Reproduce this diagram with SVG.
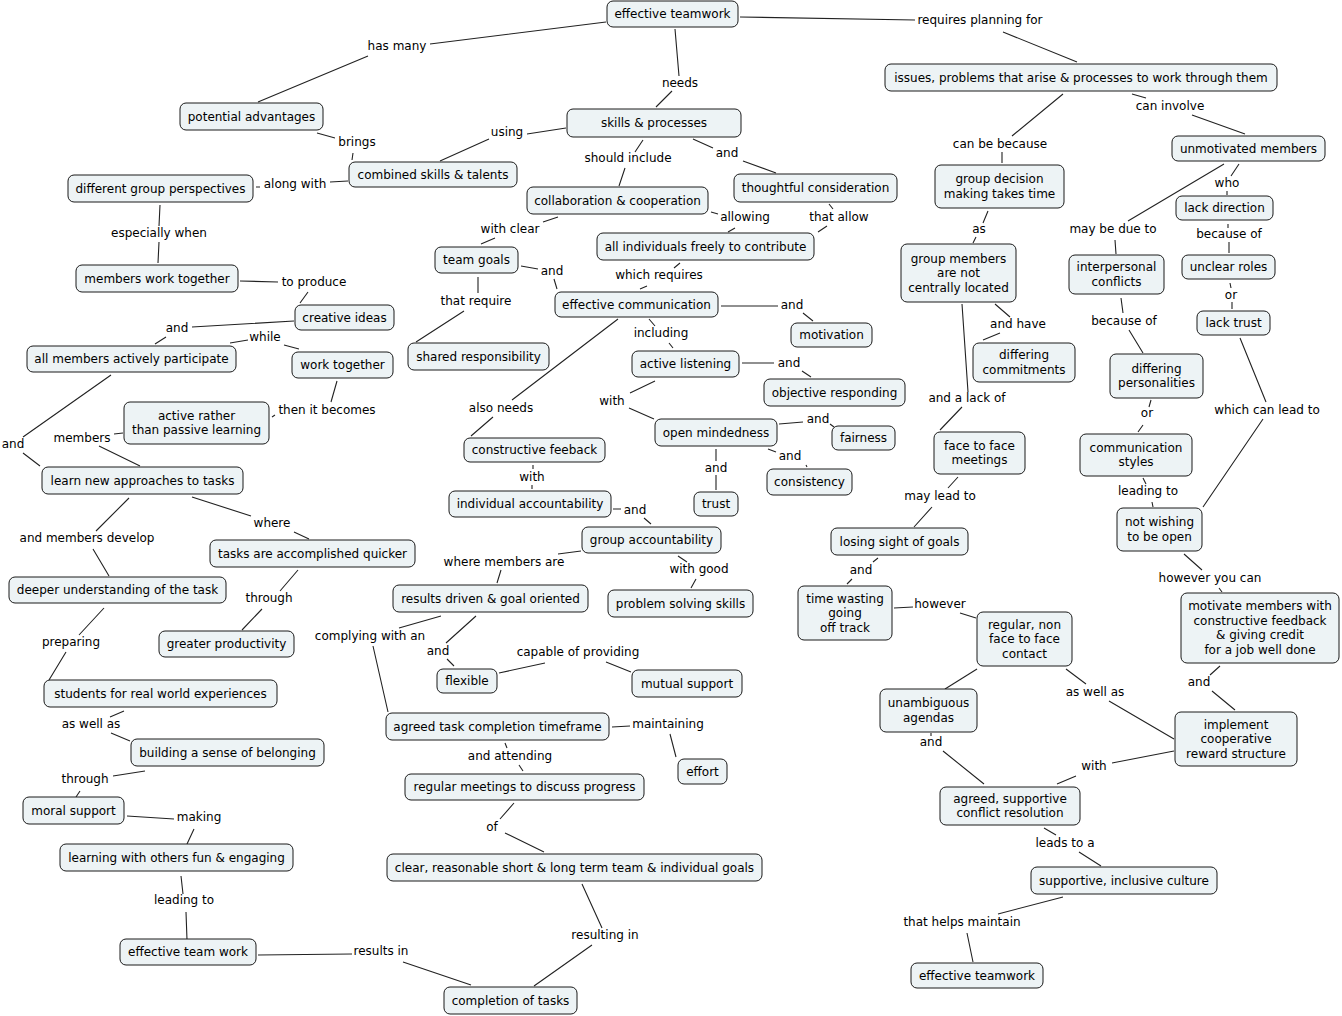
<svg xmlns="http://www.w3.org/2000/svg" width="1342" height="1016" viewBox="0 0 1342 1016">
<style>
text{font-family:"DejaVu Sans",Verdana,sans-serif;font-size:12px;fill:#000;text-anchor:middle}
.n rect{fill:#edf3f5;stroke:#1a1a1a;stroke-width:1}
#connectors path{fill:none;stroke:#222;stroke-width:1.1}
</style>
<rect width="1342" height="1016" fill="#fff"/>
<g id="connectors">
<path d="M606,22L430,44M368,56L258,102"/>
<path d="M675,29L679,76M672,91L656,107"/>
<path d="M740,17L915,20M1003,32L1077,62"/>
<path d="M566,128L527,134M489,139L440,161"/>
<path d="M317,133L335,138M353,153L352,160"/>
<path d="M643,140L635,152M625,168L619,186"/>
<path d="M693,139L713,148M743,161L776,173"/>
<path d="M348,181L330,182M260,187L256,187"/>
<path d="M558,217L543,222M495,238L481,244"/>
<path d="M711,212L718,214M735,228L728,232"/>
<path d="M829,204L833,209M827,226L818,232"/>
<path d="M160,205L159,226M159,242L158,263"/>
<path d="M680,263L674,268M647,286L640,289"/>
<path d="M521,266L538,269M554,279L557,289"/>
<path d="M240,281L278,282M308,292L300,303"/>
<path d="M478,277L478,293M464,311L416,342"/>
<path d="M721,306L778,306M803,313L813,321"/>
<path d="M294,321L192,327M166,337L155,344"/>
<path d="M230,343L248,340M284,345L299,349"/>
<path d="M649,319L655,326M669,343L673,348"/>
<path d="M742,363L774,363M802,371L811,377"/>
<path d="M655,381L630,393M629,408L654,419"/>
<path d="M337,381L331,402M275,415L272,417"/>
<path d="M618,319L512,400M493,417L471,436"/>
<path d="M779,424L803,422M830,424L834,427"/>
<path d="M111,375L23,437M23,453L40,466"/>
<path d="M123,433L114,434M99,446L140,466"/>
<path d="M716,449L716,461M716,475L716,490"/>
<path d="M768,449L776,452M806,465L807,467"/>
<path d="M533,465L533,469M532,485L532,489"/>
<path d="M613,509L621,509M644,518L651,524"/>
<path d="M192,497L251,516M294,532L309,539"/>
<path d="M129,498L96,531M93,549L109,576"/>
<path d="M581,551L558,554M501,570L497,583"/>
<path d="M678,556L687,562M696,579L691,588"/>
<path d="M298,570L280,591M262,609L242,630"/>
<path d="M441,616L399,628M373,646L388,712"/>
<path d="M104,608L79,635M66,652L49,680"/>
<path d="M476,616L446,643M447,659L454,666"/>
<path d="M499,673L545,663M606,662L631,672"/>
<path d="M612,727L630,726M670,734L676,757"/>
<path d="M124,711L110,717M111,733L130,741"/>
<path d="M505,743L507,748M519,765L523,771"/>
<path d="M145,771L113,776M80,791L76,797"/>
<path d="M127,816L174,819M194,829L187,844"/>
<path d="M514,803L500,819M505,833L544,852"/>
<path d="M181,876L183,894M186,912L187,940"/>
<path d="M582,884L602,928M592,945L534,986"/>
<path d="M258,955L352,954M403,962L471,985"/>
<path d="M1063,94L1012,136M1002,152L1002,163"/>
<path d="M1132,94L1146,98M1192,115L1245,134"/>
<path d="M1239,164L1231,176M1227,191L1227,195"/>
<path d="M1224,164L1128,221M1115,240L1116,254"/>
<path d="M1228,224L1228,228M1229,242L1229,253"/>
<path d="M1230,283L1231,288M1232,302L1232,309"/>
<path d="M988,211L983,223M976,237L973,243"/>
<path d="M1121,298L1123,313M1129,330L1143,353"/>
<path d="M995,304L1010,317M1000,333L983,340"/>
<path d="M962,304L968,392M962,407L940,430"/>
<path d="M1151,400L1149,407M1143,425L1138,432"/>
<path d="M1143,478L1146,484M1152,502L1153,507"/>
<path d="M1240,338L1266,402M1263,419L1203,507"/>
<path d="M958,477L948,488M932,507L914,527"/>
<path d="M878,558L873,562M852,579L847,584"/>
<path d="M894,608L913,607M960,613L976,618"/>
<path d="M1184,554L1202,570M1219,588L1222,592"/>
<path d="M1220,666L1210,675M1212,691L1235,710"/>
<path d="M1066,669L1086,684M1109,701L1174,739"/>
<path d="M977,669L945,689"/>
<path d="M931,733L931,736M943,751L984,784"/>
<path d="M1174,751L1112,763M1076,776L1057,784"/>
<path d="M1044,828L1056,835M1079,852L1101,866"/>
<path d="M1063,897L998,914M967,933L973,962"/>
</g>
<g id="link-labels">
<text x="397" y="50">has many</text>
<text x="680" y="87">needs</text>
<text x="980" y="24">requires planning for</text>
<text x="507" y="136">using</text>
<text x="357" y="146">brings</text>
<text x="628" y="162">should include</text>
<text x="727" y="157">and</text>
<text x="295" y="188">along with</text>
<text x="510" y="233">with clear</text>
<text x="745" y="221">allowing</text>
<text x="839" y="221">that allow</text>
<text x="159" y="237">especially when</text>
<text x="659" y="279">which requires</text>
<text x="552" y="275">and</text>
<text x="314" y="286">to produce</text>
<text x="476" y="305">that require</text>
<text x="792" y="309">and</text>
<text x="177" y="332">and</text>
<text x="265" y="341">while</text>
<text x="661" y="337">including</text>
<text x="789" y="367">and</text>
<text x="612" y="405">with</text>
<text x="327" y="414">then it becomes</text>
<text x="501" y="412">also needs</text>
<text x="818" y="423">and</text>
<text x="13" y="448">and</text>
<text x="82" y="442">members</text>
<text x="716" y="472">and</text>
<text x="790" y="460">and</text>
<text x="532" y="481">with</text>
<text x="635" y="514">and</text>
<text x="272" y="527">where</text>
<text x="87" y="542">and members develop</text>
<text x="504" y="566">where members are</text>
<text x="699" y="573">with good</text>
<text x="269" y="602">through</text>
<text x="370" y="640">complying with an</text>
<text x="71" y="646">preparing</text>
<text x="438" y="655">and</text>
<text x="578" y="656">capable of providing</text>
<text x="668" y="728">maintaining</text>
<text x="91" y="728">as well as</text>
<text x="510" y="760">and attending</text>
<text x="85" y="783">through</text>
<text x="199" y="821">making</text>
<text x="492" y="831">of</text>
<text x="184" y="904">leading to</text>
<text x="605" y="939">resulting in</text>
<text x="381" y="955">results in</text>
<text x="1000" y="148">can be because</text>
<text x="1170" y="110">can involve</text>
<text x="1227" y="187">who</text>
<text x="1113" y="233">may be due to</text>
<text x="1229" y="238">because of</text>
<text x="979" y="233">as</text>
<text x="1231" y="299">or</text>
<text x="1124" y="325">because of</text>
<text x="1018" y="328">and have</text>
<text x="967" y="402">and a lack of</text>
<text x="1267" y="414">which can lead to</text>
<text x="1147" y="417">or</text>
<text x="1148" y="495">leading to</text>
<text x="940" y="500">may lead to</text>
<text x="861" y="574">and</text>
<text x="940" y="608">however</text>
<text x="1210" y="582">however you can</text>
<text x="1199" y="686">and</text>
<text x="1095" y="696">as well as</text>
<text x="931" y="746">and</text>
<text x="1094" y="770">with</text>
<text x="1065" y="847">leads to a</text>
<text x="962" y="926">that helps maintain</text>
</g>
<g id="n1" class="n"><rect x="607" y="1" width="131" height="26" rx="6"/><text x="672.5" y="18">effective teamwork</text></g>
<g id="n2" class="n"><rect x="180" y="103" width="143" height="27" rx="6"/><text x="251.5" y="120.5">potential advantages</text></g>
<g id="n3" class="n"><rect x="349" y="162" width="168" height="25" rx="6"/><text x="433" y="178.5">combined skills &amp; talents</text></g>
<g id="n4" class="n"><rect x="68" y="175" width="185" height="27" rx="6"/><text x="160.5" y="192.5">different group perspectives</text></g>
<g id="n5" class="n"><rect x="76" y="265" width="162" height="27" rx="6"/><text x="157" y="282.5">members work together</text></g>
<g id="n6" class="n"><rect x="295" y="305" width="99" height="25" rx="6"/><text x="344.5" y="321.5">creative ideas</text></g>
<g id="n7" class="n"><rect x="27" y="346" width="209" height="26" rx="6"/><text x="131.5" y="363">all members actively participate</text></g>
<g id="n8" class="n"><rect x="292" y="352" width="101" height="26" rx="6"/><text x="342.5" y="369">work together</text></g>
<g id="n9" class="n"><rect x="124" y="402" width="145" height="42" rx="6"/><text x="196.5" y="419.75">active rather</text><text x="196.5" y="434.25">than passive learning</text></g>
<g id="n10" class="n"><rect x="42" y="467" width="201" height="27" rx="6"/><text x="142.5" y="484.5">learn new approaches to tasks</text></g>
<g id="n11" class="n"><rect x="210" y="540" width="205" height="27" rx="6"/><text x="312.5" y="557.5">tasks are accomplished quicker</text></g>
<g id="n12" class="n"><rect x="9" y="577" width="217" height="26" rx="6"/><text x="117.5" y="594">deeper understanding of the task</text></g>
<g id="n13" class="n"><rect x="159" y="631" width="135" height="26" rx="6"/><text x="226.5" y="648">greater productivity</text></g>
<g id="n14" class="n"><rect x="44" y="680" width="233" height="27" rx="6"/><text x="160.5" y="697.5">students for real world experiences</text></g>
<g id="n15" class="n"><rect x="131" y="739" width="193" height="27" rx="6"/><text x="227.5" y="756.5">building a sense of belonging</text></g>
<g id="n16" class="n"><rect x="23" y="797" width="101" height="27" rx="6"/><text x="73.5" y="814.5">moral support</text></g>
<g id="n17" class="n"><rect x="60" y="844" width="233" height="27" rx="6"/><text x="176.5" y="861.5">learning with others fun &amp; engaging</text></g>
<g id="n18" class="n"><rect x="120" y="939" width="136" height="26" rx="6"/><text x="188" y="956">effective team work</text></g>
<g id="n19" class="n"><rect x="449" y="491" width="162" height="26" rx="6"/><text x="530" y="508">individual accountability</text></g>
<g id="n20" class="n"><rect x="582" y="527" width="139" height="26" rx="6"/><text x="651.5" y="544">group accountability</text></g>
<g id="n21" class="n"><rect x="393" y="585" width="195" height="27" rx="6"/><text x="490.5" y="602.5">results driven &amp; goal oriented</text></g>
<g id="n22" class="n"><rect x="608" y="590" width="145" height="27" rx="6"/><text x="680.5" y="607.5">problem solving skills</text></g>
<g id="n23" class="n"><rect x="437" y="669" width="60" height="24" rx="6"/><text x="467" y="685">flexible</text></g>
<g id="n24" class="n"><rect x="632" y="670" width="110" height="27" rx="6"/><text x="687" y="687.5">mutual support</text></g>
<g id="n25" class="n"><rect x="386" y="713" width="223" height="27" rx="6"/><text x="497.5" y="730.5">agreed task completion timeframe</text></g>
<g id="n26" class="n"><rect x="678" y="759" width="49" height="25" rx="6"/><text x="702.5" y="775.5">effort</text></g>
<g id="n27" class="n"><rect x="405" y="774" width="239" height="26" rx="6"/><text x="524.5" y="791">regular meetings to discuss progress</text></g>
<g id="n28" class="n"><rect x="387" y="854" width="375" height="27" rx="6"/><text x="574.5" y="871.5">clear, reasonable short &amp; long term team &amp; individual goals</text></g>
<g id="n29" class="n"><rect x="444" y="987" width="133" height="27" rx="6"/><text x="510.5" y="1004.5">completion of tasks</text></g>
<g id="n30" class="n"><rect x="527" y="187" width="181" height="27" rx="6"/><text x="617.5" y="204.5">collaboration &amp; cooperation</text></g>
<g id="n31" class="n"><rect x="734" y="174" width="163" height="28" rx="6"/><text x="815.5" y="192">thoughtful consideration</text></g>
<g id="n32" class="n"><rect x="567" y="109" width="174" height="28" rx="6"/><text x="654" y="127">skills &amp; processes</text></g>
<g id="n33" class="n"><rect x="435" y="247" width="83" height="26" rx="6"/><text x="476.5" y="264">team goals</text></g>
<g id="n34" class="n"><rect x="597" y="233" width="217" height="27" rx="6"/><text x="705.5" y="250.5">all individuals freely to contribute</text></g>
<g id="n35" class="n"><rect x="555" y="292" width="163" height="25" rx="6"/><text x="636.5" y="308.5">effective communication</text></g>
<g id="n36" class="n"><rect x="408" y="343" width="141" height="27" rx="6"/><text x="478.5" y="360.5">shared responsibility</text></g>
<g id="n37" class="n"><rect x="791" y="323" width="81" height="24" rx="6"/><text x="831.5" y="339">motivation</text></g>
<g id="n38" class="n"><rect x="632" y="351" width="107" height="26" rx="6"/><text x="685.5" y="368">active listening</text></g>
<g id="n39" class="n"><rect x="764" y="379" width="141" height="27" rx="6"/><text x="834.5" y="396.5">objective responding</text></g>
<g id="n40" class="n"><rect x="655" y="419" width="122" height="27" rx="6"/><text x="716" y="436.5">open mindedness</text></g>
<g id="n41" class="n"><rect x="832" y="426" width="63" height="24" rx="6"/><text x="863.5" y="442">fairness</text></g>
<g id="n42" class="n"><rect x="464" y="438" width="141" height="24" rx="6"/><text x="534.5" y="454">constructive feeback</text></g>
<g id="n43" class="n"><rect x="767" y="469" width="85" height="26" rx="6"/><text x="809.5" y="486">consistency</text></g>
<g id="n44" class="n"><rect x="694" y="492" width="44" height="24" rx="6"/><text x="716" y="508">trust</text></g>
<g id="n45" class="n"><rect x="885" y="64" width="392" height="27" rx="6"/><text x="1081" y="81.5">issues, problems that arise &amp; processes to work through them</text></g>
<g id="n46" class="n"><rect x="1172" y="136" width="153" height="25" rx="6"/><text x="1248.5" y="152.5">unmotivated members</text></g>
<g id="n47" class="n"><rect x="935" y="165" width="129" height="43" rx="6"/><text x="999.5" y="183.25">group decision</text><text x="999.5" y="197.75">making takes time</text></g>
<g id="n48" class="n"><rect x="1176" y="196" width="97" height="24" rx="6"/><text x="1224.5" y="212">lack direction</text></g>
<g id="n49" class="n"><rect x="901" y="244" width="115" height="58" rx="6"/><text x="958.5" y="262.5">group members</text><text x="958.5" y="277">are not</text><text x="958.5" y="291.5">centrally located</text></g>
<g id="n50" class="n"><rect x="1069" y="255" width="95" height="39" rx="6"/><text x="1116.5" y="271.25">interpersonal</text><text x="1116.5" y="285.75">conflicts</text></g>
<g id="n51" class="n"><rect x="1182" y="255" width="93" height="24" rx="6"/><text x="1228.5" y="271">unclear roles</text></g>
<g id="n52" class="n"><rect x="1197" y="311" width="73" height="24" rx="6"/><text x="1233.5" y="327">lack trust</text></g>
<g id="n53" class="n"><rect x="973" y="343" width="102" height="39" rx="6"/><text x="1024" y="359.25">differing</text><text x="1024" y="373.75">commitments</text></g>
<g id="n54" class="n"><rect x="1110" y="354" width="93" height="44" rx="6"/><text x="1156.5" y="372.75">differing</text><text x="1156.5" y="387.25">personalities</text></g>
<g id="n55" class="n"><rect x="934" y="432" width="91" height="42" rx="6"/><text x="979.5" y="449.75">face to face</text><text x="979.5" y="464.25">meetings</text></g>
<g id="n56" class="n"><rect x="1080" y="434" width="112" height="42" rx="6"/><text x="1136" y="451.75">communication</text><text x="1136" y="466.25">styles</text></g>
<g id="n57" class="n"><rect x="1117" y="508" width="85" height="43" rx="6"/><text x="1159.5" y="526.25">not wishing</text><text x="1159.5" y="540.75">to be open</text></g>
<g id="n58" class="n"><rect x="831" y="528" width="137" height="27" rx="6"/><text x="899.5" y="545.5">losing sight of goals</text></g>
<g id="n59" class="n"><rect x="798" y="586" width="94" height="54" rx="6"/><text x="845" y="602.5">time wasting</text><text x="845" y="617">going</text><text x="845" y="631.5">off track</text></g>
<g id="n60" class="n"><rect x="977" y="612" width="95" height="54" rx="6"/><text x="1024.5" y="628.5">regular, non</text><text x="1024.5" y="643">face to face</text><text x="1024.5" y="657.5">contact</text></g>
<g id="n61" class="n"><rect x="1181" y="593" width="158" height="70" rx="6"/><text x="1260" y="610">motivate members with</text><text x="1260" y="624.5">constructive feedback</text><text x="1260" y="639">&amp; giving credit</text><text x="1260" y="653.5">for a job well done</text></g>
<g id="n62" class="n"><rect x="880" y="689" width="97" height="43" rx="6"/><text x="928.5" y="707.25">unambiguous</text><text x="928.5" y="721.75">agendas</text></g>
<g id="n63" class="n"><rect x="1175" y="712" width="122" height="54" rx="6"/><text x="1236" y="728.5">implement</text><text x="1236" y="743">cooperative</text><text x="1236" y="757.5">reward structure</text></g>
<g id="n64" class="n"><rect x="940" y="787" width="140" height="38" rx="6"/><text x="1010" y="802.75">agreed, supportive</text><text x="1010" y="817.25">conflict resolution</text></g>
<g id="n65" class="n"><rect x="1031" y="867" width="186" height="27" rx="6"/><text x="1124" y="884.5">supportive, inclusive culture</text></g>
<g id="n66" class="n"><rect x="911" y="963" width="132" height="25" rx="6"/><text x="977" y="979.5">effective teamwork</text></g>
</svg>
